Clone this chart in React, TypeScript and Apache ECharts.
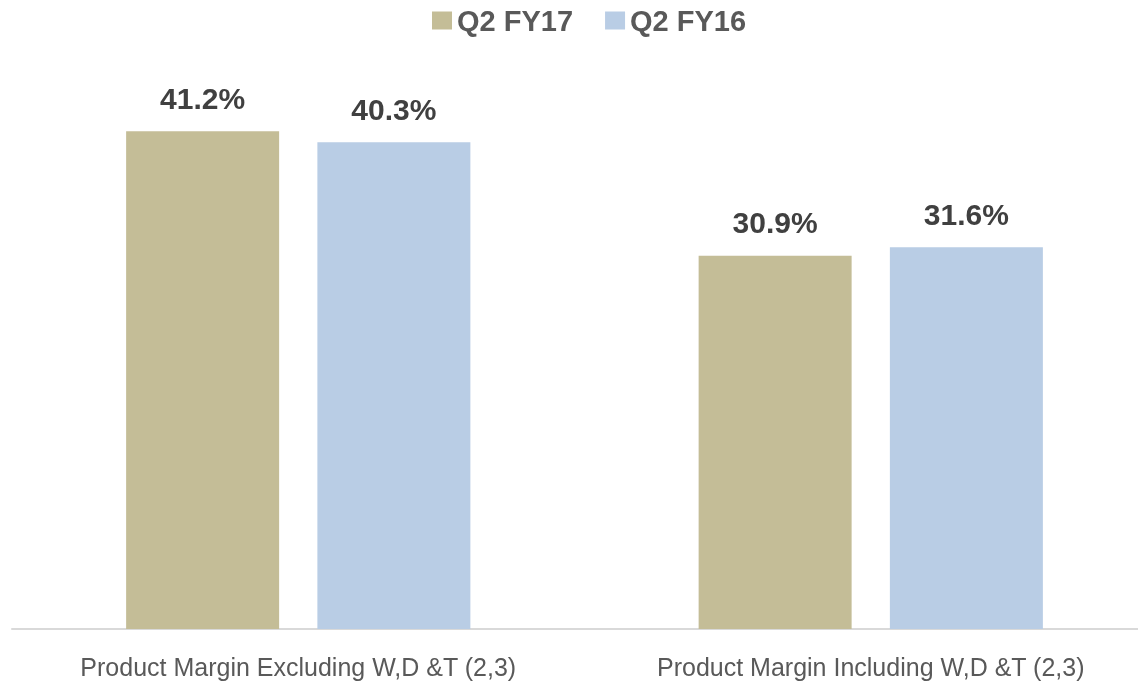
import React, { useEffect, useRef } from "react";
import * as echarts from "echarts";

const categories = [
  "Product Margin Excluding W,D &T (2,3)",
  "Product Margin Including W,D &T (2,3)",
];
const seriesNames = ["Q2 FY17", "Q2 FY16"];
const fy17 = [41.2, 30.9];
const fy16 = [40.3, 31.6];
const colors = ["#C4BD97", "#B9CDE5"];

export default function App() {
  const ref = useRef<HTMLDivElement>(null);
  useEffect(() => {
    if (!ref.current) return;
    const chart = echarts.init(ref.current, null, { renderer: "svg" });
    const label = {
      show: true,
      position: "top",
      distance: 18,
      formatter: (p: any) => p.value.toFixed(1) + "%",
      color: "#404040",
      fontWeight: "bold",
      fontSize: 30,
      fontFamily: "Liberation Sans, Arial, sans-serif",
    };
    chart.setOption({
      animation: false,
      legend: {
        top: 1,
        left: 427,
        itemWidth: 20,
        itemHeight: 18,
        itemGap: 32,
        icon: "rect",
        textStyle: {
          color: "#595959",
          fontWeight: "bold",
          fontSize: 29,
          fontFamily: "Liberation Sans, Arial, sans-serif",
        },
        data: seriesNames,
      },
      grid: {
        left: 12,
        width: 1145,
        top: 25,
        bottom: 55,
        outerBoundsMode: "none",
        containLabel: false,
      },
      xAxis: {
        type: "category",
        data: categories,
        axisLine: { show: true, lineStyle: { color: "#D9D9D9", width: 2 } },
        axisTick: { show: false },
        axisLabel: {
          color: "#595959",
          fontSize: 25,
          margin: 25,
          interval: 0,
          fontFamily: "Liberation Sans, Arial, sans-serif",
        },
      },
      yAxis: {
        type: "value",
        min: 0,
        max: 50,
        show: false,
        splitLine: { show: false },
      },
      series: [
        {
          name: seriesNames[0],
          type: "bar",
          data: fy17,
          barWidth: 153,
          barGap: "25%",
          itemStyle: { color: colors[0] },
          label,
        },
        {
          name: seriesNames[1],
          type: "bar",
          data: fy16,
          barWidth: 153,
          barGap: "25%",
          itemStyle: { color: colors[1] },
          label,
        },
      ],
    });
    return () => chart.dispose();
  }, []);
  return (
    <div
      ref={ref}
      style={{ position: "fixed", left: 0, top: 0, width: 1138, height: 684 }}
    />
  );
}
